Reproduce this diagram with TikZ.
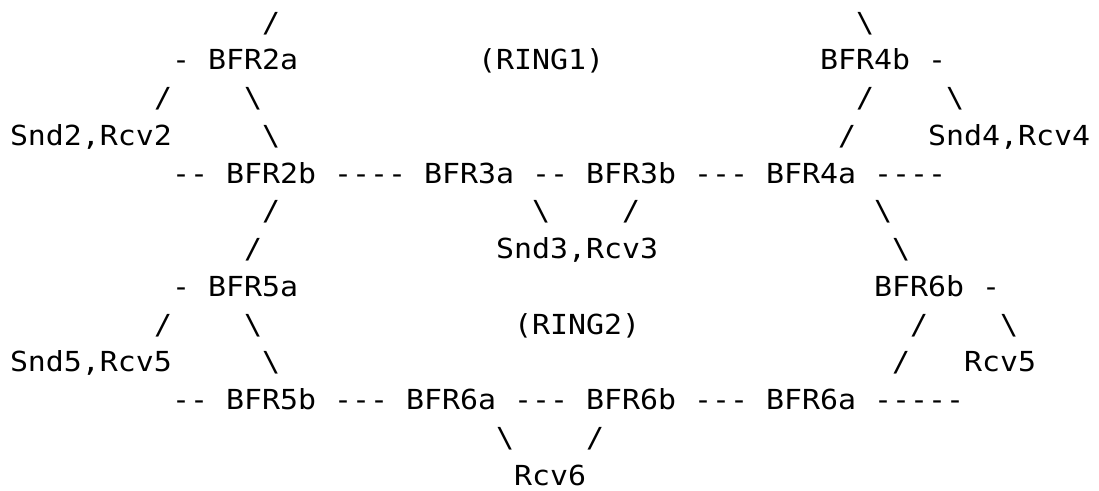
\documentclass[tikz,border=0pt]{standalone}
\usepackage{fontspec}
% monospaced face, widened so that one character cell is exactly 18pt
\newfontfamily\asciimono{DejaVu Sans Mono}[FakeStretch=1.0833]
\tikzset{
  ascii/.style={anchor=base west, inner sep=0pt, outer sep=0pt,
    font=\asciimono\fontsize{27.6}{37.75}\selectfont, text=black},
}
\newcommand\bs{\textbackslash}
\begin{document}
\begin{tikzpicture}[x=1pt, y=-1pt]
\useasboundingbox[fill=white] (0,0) rectangle (1099,490);
% character grid: one column = 18pt, one text line = 37.75pt
\begin{scope}[shift={(10pt,5.55pt)}, x=18pt, y=-37.75pt]
% line 1
\node[ascii] (l1a) at (14,1) {/};
\node[ascii] (l1b) at (47,1) {\bs};
% line 2
\node[ascii] (l2a) at (9,2) {-};
\node[ascii] (bfr2a) at (11,2) {BFR2a};
\node[ascii] (ring1) at (26,2) {(RING1)};
\node[ascii] (bfr4b) at (45,2) {BFR4b};
\node[ascii] (l2b) at (51,2) {-};
% line 3
\node[ascii] (l3a) at (8,3) {/};
\node[ascii] (l3b) at (13,3) {\bs};
\node[ascii] (l3c) at (47,3) {/};
\node[ascii] (l3d) at (52,3) {\bs};
% line 4
\node[ascii] (sr2) at (0,4) {Snd2,Rcv2};
\node[ascii] (l4a) at (14,4) {\bs};
\node[ascii] (l4b) at (46,4) {/};
\node[ascii] (sr4) at (51,4) {Snd4,Rcv4};
% line 5
\node[ascii] (l5a) at (9,5) {-{}-};
\node[ascii] (bfr2b) at (12,5) {BFR2b};
\node[ascii] (l5b) at (18,5) {-{}-{}-{}-};
\node[ascii] (bfr3a) at (23,5) {BFR3a};
\node[ascii] (l5c) at (29,5) {-{}-};
\node[ascii] (bfr3b) at (32,5) {BFR3b};
\node[ascii] (l5d) at (38,5) {-{}-{}-};
\node[ascii] (bfr4a) at (42,5) {BFR4a};
\node[ascii] (l5e) at (48,5) {-{}-{}-{}-};
% line 6
\node[ascii] (l6a) at (14,6) {/};
\node[ascii] (l6b) at (29,6) {\bs};
\node[ascii] (l6c) at (34,6) {/};
\node[ascii] (l6d) at (48,6) {\bs};
% line 7
\node[ascii] (l7a) at (13,7) {/};
\node[ascii] (sr3) at (27,7) {Snd3,Rcv3};
\node[ascii] (l7b) at (49,7) {\bs};
% line 8
\node[ascii] (l8a) at (9,8) {-};
\node[ascii] (bfr5a) at (11,8) {BFR5a};
\node[ascii] (bfr6b-r) at (48,8) {BFR6b};
\node[ascii] (l8b) at (54,8) {-};
% line 9
\node[ascii] (l9a) at (8,9) {/};
\node[ascii] (l9b) at (13,9) {\bs};
\node[ascii] (ring2) at (28,9) {(RING2)};
\node[ascii] (l9c) at (50,9) {/};
\node[ascii] (l9d) at (55,9) {\bs};
% line 10
\node[ascii] (sr5) at (0,10) {Snd5,Rcv5};
\node[ascii] (l10a) at (14,10) {\bs};
\node[ascii] (l10b) at (49,10) {/};
\node[ascii] (r5) at (53,10) {Rcv5};
% line 11
\node[ascii] (l11a) at (9,11) {-{}-};
\node[ascii] (bfr5b) at (12,11) {BFR5b};
\node[ascii] (l11b) at (18,11) {-{}-{}-};
\node[ascii] (bfr6a) at (22,11) {BFR6a};
\node[ascii] (l11c) at (28,11) {-{}-{}-};
\node[ascii] (bfr6b) at (32,11) {BFR6b};
\node[ascii] (l11d) at (38,11) {-{}-{}-};
\node[ascii] (bfr6a-r) at (42,11) {BFR6a};
\node[ascii] (l11e) at (48,11) {-{}-{}-{}-{}-};
% line 12
\node[ascii] (l12a) at (27,12) {\bs};
\node[ascii] (l12b) at (32,12) {/};
% line 13 (no descenders, so the box stops at the baseline)
\node[ascii, text depth=0pt] (r6) at (28,13) {Rcv6};
\end{scope}
\end{tikzpicture}
\end{document}
